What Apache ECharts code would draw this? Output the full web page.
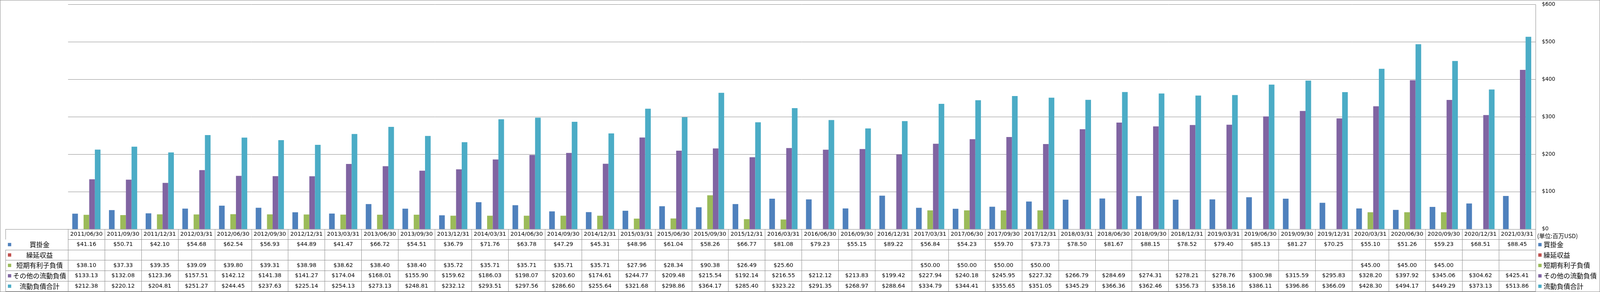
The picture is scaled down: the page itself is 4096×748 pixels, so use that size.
<!DOCTYPE html>
<html><head><meta charset="utf-8">
<script src="https://cdn.jsdelivr.net/npm/echarts@6/dist/echarts.min.js"></script>
<style>
html,body{margin:0;padding:0;background:#fff}
#c{position:absolute;left:0;top:0;width:4096px;height:748px}
#b{position:absolute;left:0;top:0;width:4096px;height:748px;box-sizing:border-box;border:1px solid #888;pointer-events:none}
</style>
</head><body><div id="c"></div><div id="b"></div>
<script>
const categories = ['2011/06/30','2011/09/30','2011/12/31','2012/03/31','2012/06/30','2012/09/30','2012/12/31','2013/03/31','2013/06/30','2013/09/30','2013/12/31','2014/03/31','2014/06/30','2014/09/30','2014/12/31','2015/03/31','2015/06/30','2015/09/30','2015/12/31','2016/03/31','2016/06/30','2016/09/30','2016/12/31','2017/03/31','2017/06/30','2017/09/30','2017/12/31','2018/03/31','2018/06/30','2018/09/30','2018/12/31','2019/03/31','2019/06/30','2019/09/30','2019/12/31','2020/03/31','2020/06/30','2020/09/30','2020/12/31','2021/03/31'];
const seriesNames = ['買掛金','繰延収益','短期有利子負債','その他の流動負債','流動負債合計'];
const tradePayables = [41.16,50.71,42.10,54.68,62.54,56.93,44.89,41.47,66.72,54.51,36.79,71.76,63.78,47.29,45.31,48.96,61.04,58.26,66.77,81.08,79.23,55.15,89.22,56.84,54.23,59.70,73.73,78.50,81.67,88.15,78.52,79.40,85.13,81.27,70.25,55.10,51.26,59.23,68.51,88.45];
const deferredRevenue = [null,null,null,null,null,null,null,null,null,null,null,null,null,null,null,null,null,null,null,null,null,null,null,null,null,null,null,null,null,null,null,null,null,null,null,null,null,null,null,null];
const shortTermDebt = [38.10,37.33,39.35,39.09,39.80,39.31,38.98,38.62,38.40,38.40,35.72,35.71,35.71,35.71,35.71,27.96,28.34,90.38,26.49,25.60,null,null,null,50.00,50.00,50.00,50.00,null,null,null,null,null,null,null,null,45.00,45.00,45.00,null,null];
const otherCurrentLiabilities = [133.13,132.08,123.36,157.51,142.12,141.38,141.27,174.04,168.01,155.90,159.62,186.03,198.07,203.60,174.61,244.77,209.48,215.54,192.14,216.55,212.12,213.83,199.42,227.94,240.18,245.95,227.32,266.79,284.69,274.31,278.21,278.76,300.98,315.59,295.83,328.20,397.92,345.06,304.62,425.41];
const totalCurrentLiabilities = [212.38,220.12,204.81,251.27,244.45,237.63,225.14,254.13,273.13,248.81,232.12,293.51,297.56,286.60,255.64,321.68,298.86,364.17,285.40,323.22,291.35,268.97,288.64,334.79,344.41,355.65,351.05,345.29,366.36,362.46,356.73,358.16,386.11,396.86,366.09,428.30,494.17,449.29,373.13,513.86];
const unitLabel = '(単位:百万USD)';

const FONT = '"DejaVu Sans","Noto Sans CJK JP",sans-serif';
const CJK = '"Noto Sans CJK JP",sans-serif';
const LINE = '#888888';
const colors = ['#4F81BD','#C0504D','#9BBB59','#8064A2','#4BACC6'];
const rows = [tradePayables, deferredRevenue, shortTermDebt, otherCurrentLiabilities, totalCurrentLiabilities];
const W = 4096, H = 748;
const plotLeft = 174.2, plotRight = 3930.8, plotTop = 11.7, plotBottom = 586.8;
const headerH = 26.4, rowH = 26.65;
const hdrLeft = 14.7;
const fmt = v => (v == null ? '' : '$' + v.toFixed(2));

const xAxis = [];
xAxis.push({
  gridIndex: 0, type: 'category', data: categories, position: 'bottom',
  axisLine: { lineStyle: { color: LINE, width: 1 } },
  axisTick: { show: true, interval: 0, length: headerH, lineStyle: { color: LINE, width: 1 } },
  axisLabel: { interval: 0, margin: headerH / 2, verticalAlign: 'middle', fontSize: 14.4, color: '#000', fontFamily: FONT },
  splitLine: { show: false }
});
rows.forEach((r, i) => {
  const off = headerH + i * rowH;
  xAxis.push({
    gridIndex: 0, type: 'category', data: categories, position: 'bottom', offset: off,
    axisLine: { lineStyle: { color: LINE, width: 1 } },
    axisTick: { show: true, interval: 0, length: rowH, lineStyle: { color: LINE, width: 1 } },
    axisLabel: { interval: 0, margin: rowH / 2, verticalAlign: 'middle', fontSize: 14.4, color: '#000', fontFamily: FONT,
      formatter: (v, idx) => fmt(r[idx]) },
    splitLine: { show: false }
  });
  xAxis.push({
    gridIndex: 1, type: 'category', data: [seriesNames[i]], position: 'bottom', offset: off,
    axisLine: { lineStyle: { color: LINE, width: 1 } },
    axisTick: { show: true, interval: 0, length: rowH, lineStyle: { color: LINE, width: 1 } },
    axisLabel: { interval: 0, margin: rowH / 2, verticalAlign: 'middle',
      formatter: v => '{sq|}{t|' + v + '}',
      rich: {
        sq: { width: 8.5, height: 8.5, backgroundColor: colors[i], verticalAlign: 'middle' },
        t: { width: 135, align: 'left', padding: [0, 0, 0, 5], fontSize: 17, color: '#000', fontFamily: CJK, verticalAlign: 'middle' }
      } },
    splitLine: { show: false }
  });
});
xAxis.push({ gridIndex: 0, type: 'category', data: categories, position: 'bottom', offset: headerH + 5 * rowH,
  axisLine: { lineStyle: { color: LINE, width: 1 } }, axisTick: { show: false }, axisLabel: { show: false } });
xAxis.push({ gridIndex: 1, type: 'category', data: [''], position: 'bottom', offset: headerH + 5 * rowH,
  axisLine: { lineStyle: { color: LINE, width: 1 } }, axisTick: { show: false }, axisLabel: { show: false } });

const option = {
  animation: false,
  backgroundColor: '#fff',
  title: { text: unitLabel, left: 3935, top: 597, padding: 0,
    textStyle: { fontSize: 15, fontWeight: 'normal', fontFamily: CJK, color: '#000' } },
  legend: {
    orient: 'vertical', left: 3938, top: 616.7, padding: 0,
    itemWidth: 8.5, itemHeight: 8.5, itemGap: rowH - 20, icon: 'rect', selectedMode: false,
    textStyle: { fontSize: 17, lineHeight: 20, fontFamily: CJK, color: '#000' },
    data: seriesNames
  },
  grid: [
    { left: plotLeft, right: W - plotRight, top: plotTop, bottom: H - plotBottom, containLabel: false },
    { left: hdrLeft, width: plotLeft - hdrLeft, top: plotTop, bottom: H - plotBottom, containLabel: false }
  ],
  xAxis: xAxis,
  yAxis: [
    { gridIndex: 0, type: 'value', position: 'right', min: 0, max: 600, interval: 100,
      axisLine: { show: true, lineStyle: { color: LINE, width: 1 } },
      axisTick: { show: false },
      splitLine: { show: true, lineStyle: { color: LINE, width: 1 } },
      axisLabel: { formatter: v => '$' + v, margin: 16.5, fontSize: 13.4, color: '#000', fontFamily: FONT } },
    { gridIndex: 1, type: 'value', show: false }
  ],
  series: rows.map((r, i) => ({
    name: seriesNames[i], type: 'bar', xAxisIndex: 0, yAxisIndex: 0, data: r,
    itemStyle: { color: colors[i] }, barGap: '0%', barCategoryGap: '23.08%'
  }))
};
const chart = echarts.init(document.getElementById('c'), null, { renderer: 'canvas', width: W, height: H });
chart.setOption(option);
</script>
</body></html>
